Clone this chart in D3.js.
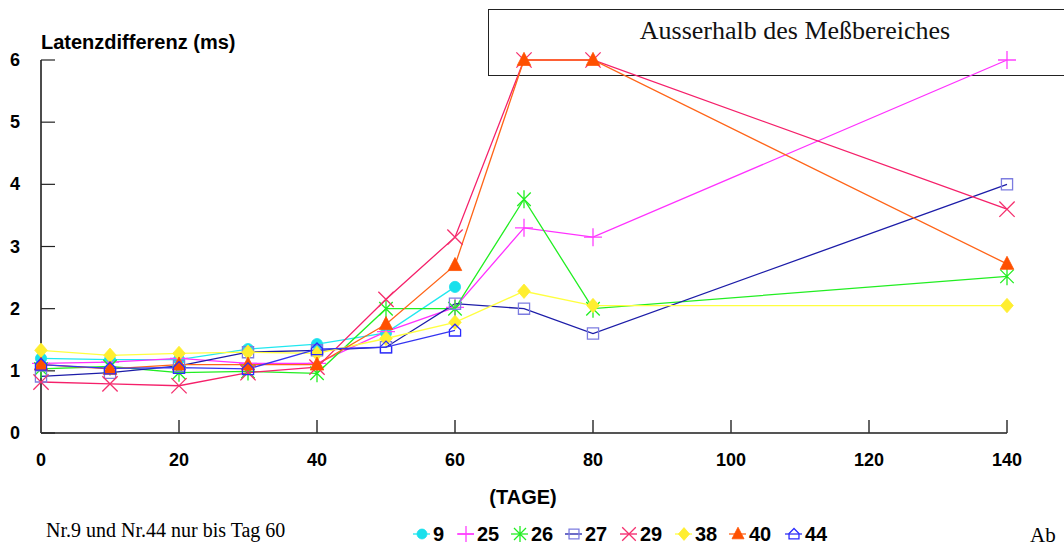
<!DOCTYPE html>
<html>
<head>
<meta charset="utf-8">
<script src="https://cdn.jsdelivr.net/npm/d3@7/dist/d3.min.js"></script>
<style>
  html, body { margin: 0; padding: 0; background: #fff; }
  svg { display: block; }
</style>
</head>
<body>
<svg id="chart" width="1064" height="548"></svg>
<script>
// Measurement days
const days = [0, 10, 20, 30, 40, 50, 60, 70, 80, 140];

// Latency difference (ms) per animal
const s9  = [1.20, 1.18, 1.18, 1.35, 1.43, 1.61, 2.35];
const s25 = [1.12, 1.14, 1.20, 1.12, 1.12, 1.63, 2.02, 3.30, 3.15, 6.00];
const s26 = [1.03, 1.07, 0.97, 0.99, 0.96, 2.00, 2.00, 3.76, 2.00, 2.52];
const s27 = [0.91, 0.97, 1.08, 1.30, 1.33, 1.38, 2.08, 2.00, 1.60, 4.00];
const s29 = [0.82, 0.79, 0.76, 0.97, 1.06, 2.15, 3.15, 6.00, 6.00, 3.60];
const s38 = [1.33, 1.25, 1.28, 1.30, 1.28, 1.52, 1.78, 2.28, 2.05, 2.05];
const s40 = [1.10, 1.03, 1.10, 1.10, 1.10, 1.75, 2.70, 6.00, 6.00, 2.72];
const s44 = [1.10, 1.04, 1.05, 1.03, 1.35, 1.38, 1.65];

const seriesNames = ["9", "25", "26", "27", "29", "38", "40", "44"];
const seriesValues = [s9, s25, s26, s27, s29, s38, s40, s44];

const xTicks = [0, 20, 40, 60, 80, 100, 120, 140];
const yTicks = [0, 1, 2, 3, 4, 5, 6];

// Per-series styling: line colour, marker colour, marker shape
const styles = {
  "9":  { line: "#20e8f0", mark: "#18e0ec", shape: "circle" },
  "25": { line: "#ff30ff", mark: "#ff40ff", shape: "plus" },
  "26": { line: "#22ee22", mark: "#22ee22", shape: "asterisk" },
  "27": { line: "#1c1ca8", mark: "#7c7ce0", shape: "square" },
  "29": { line: "#f5206a", mark: "#f5306e", shape: "cross" },
  "38": { line: "#ffff40", mark: "#ffee30", shape: "diamond" },
  "40": { line: "#ff6418", mark: "#ff5000", shape: "triangle" },
  "44": { line: "#3434f0", mark: "#2a2aff", shape: "house" }
};

const svg = d3.select("#chart");
const x = d3.scaleLinear().domain([0, 140]).range([41, 1007]);
const y = d3.scaleLinear().domain([0, 6]).range([433, 60]);

// Marker path generators (centred at 0,0)
function markerPath(shape, r) {
  const p = d3.path();
  switch (shape) {
    case "circle":
      p.arc(0, 0, r * 0.62, 0, 2 * Math.PI); break;
    case "plus":
      p.moveTo(-r, 0); p.lineTo(r, 0); p.moveTo(0, -r); p.lineTo(0, r); break;
    case "asterisk": {
      const d = r * 0.75;
      p.moveTo(0, -r); p.lineTo(0, r);
      p.moveTo(-d, -d); p.lineTo(d, d);
      p.moveTo(-d, d); p.lineTo(d, -d);
      break;
    }
    case "square": {
      const h = r * 0.62;
      p.rect(-h, -h, 2 * h, 2 * h); break;
    }
    case "cross": {
      const d = r * 0.85;
      p.moveTo(-d, -d); p.lineTo(d, d); p.moveTo(-d, d); p.lineTo(d, -d); break;
    }
    case "diamond":
      p.moveTo(0, -r * 0.8); p.lineTo(r * 0.7, 0); p.lineTo(0, r * 0.8); p.lineTo(-r * 0.7, 0); p.closePath(); break;
    case "triangle":
      p.moveTo(0, -r * 0.85); p.lineTo(r * 0.75, r * 0.6); p.lineTo(-r * 0.75, r * 0.6); p.closePath(); break;
    case "house": {
      const h = r * 0.62;
      p.moveTo(-h, h); p.lineTo(h, h); p.lineTo(h, -h * 0.1); p.lineTo(0, -h * 1.1);
      p.lineTo(-h, -h * 0.1); p.closePath(); break;
    }
  }
  return p.toString();
}
const filledShapes = new Set(["circle", "diamond", "triangle"]);

function drawMarker(g, shape, color, cx, cy, r) {
  const filled = filledShapes.has(shape);
  g.append("path")
    .attr("d", markerPath(shape, r))
    .attr("transform", `translate(${cx},${cy})`)
    .attr("fill", filled ? color : "none")
    .attr("stroke", color)
    .attr("stroke-width", filled ? 0.8 : 1.3);
}

// Out-of-range annotation box
svg.append("rect")
  .attr("x", 488.5).attr("y", 9.5)
  .attr("width", 620).attr("height", 66)
  .attr("fill", "#fff").attr("stroke", "#222").attr("stroke-width", 1);
svg.append("text")
  .attr("x", 795).attr("y", 39)
  .attr("text-anchor", "middle")
  .attr("font-family", "'Liberation Serif', 'DejaVu Serif', serif")
  .attr("font-size", 26)
  .attr("fill", "#111")
  .text("Ausserhalb des Meßbereiches");

// Axes
const axisG = svg.append("g");
axisG.append("line")
  .attr("x1", 41).attr("x2", 41).attr("y1", y(6)).attr("y2", y(0))
  .attr("stroke", "#111").attr("stroke-width", 1.5);
axisG.append("line")
  .attr("x1", 41).attr("x2", x(140)).attr("y1", y(0)).attr("y2", y(0))
  .attr("stroke", "#555").attr("stroke-width", 1.8);

axisG.selectAll(".yt").data(yTicks).enter().append("line")
  .attr("x1", 41).attr("x2", 55)
  .attr("y1", d => y(d)).attr("y2", d => y(d))
  .attr("stroke", "#222").attr("stroke-width", 1.2);
axisG.selectAll(".xt").data(xTicks.slice(1)).enter().append("line")
  .attr("x1", d => x(d)).attr("x2", d => x(d))
  .attr("y1", y(0) - 13).attr("y2", y(0))
  .attr("stroke", "#333").attr("stroke-width", 1.5);

const labelFont = "'Liberation Sans', Arial, sans-serif";
axisG.selectAll(".yl").data(yTicks).enter().append("text")
  .attr("x", 20).attr("y", d => y(d) + 6)
  .attr("text-anchor", "end")
  .attr("font-family", labelFont).attr("font-weight", "bold").attr("font-size", 18)
  .attr("fill", "#000")
  .text(d => d);
axisG.selectAll(".xl").data(xTicks).enter().append("text")
  .attr("x", d => x(d)).attr("y", 466)
  .attr("text-anchor", "middle")
  .attr("font-family", labelFont).attr("font-weight", "bold").attr("font-size", 18)
  .attr("fill", "#000")
  .text(d => d);

svg.append("text")
  .attr("x", 41).attr("y", 49)
  .attr("font-family", labelFont).attr("font-weight", "bold").attr("font-size", 20)
  .attr("fill", "#000")
  .text("Latenzdifferenz (ms)");
svg.append("text")
  .attr("x", 523).attr("y", 504)
  .attr("text-anchor", "middle")
  .attr("font-family", labelFont).attr("font-weight", "bold").attr("font-size", 20)
  .attr("fill", "#000")
  .text("(TAGE)");

// Series lines and markers
const lineGen = d3.line().x(d => x(d[0])).y(d => y(d[1]));
const plotG = svg.append("g");
seriesNames.forEach((name, i) => {
  const pts = seriesValues[i].map((v, j) => [days[j], v]);
  const st = styles[name];
  plotG.append("path")
    .attr("d", lineGen(pts))
    .attr("fill", "none")
    .attr("stroke", st.line)
    .attr("stroke-width", 1.3);
});
seriesNames.forEach((name, i) => {
  const st = styles[name];
  seriesValues[i].forEach((v, j) => {
    drawMarker(plotG, st.shape, st.mark, x(days[j]), y(v), 9);
  });
});

// Legend
const legendX = [422, 466, 520, 574, 629, 684, 738, 794];
const legendY = 534;
const legG = svg.append("g");
seriesNames.forEach((name, i) => {
  const st = styles[name];
  const cx = legendX[i];
  legG.append("line")
    .attr("x1", cx - 9).attr("x2", cx + 8)
    .attr("y1", legendY).attr("y2", legendY)
    .attr("stroke", st.line).attr("stroke-width", 1.3);
  drawMarker(legG, st.shape, st.mark, cx, legendY, 8);
  legG.append("text")
    .attr("x", cx + 11).attr("y", legendY + 7)
    .attr("font-family", labelFont).attr("font-weight", "bold").attr("font-size", 20)
    .attr("fill", "#000")
    .text(name);
});

// Footnote and figure caption fragment
svg.append("text")
  .attr("x", 46).attr("y", 537)
  .attr("font-family", "'Liberation Serif', serif").attr("font-size", 20)
  .attr("fill", "#000")
  .text("Nr.9 und Nr.44 nur bis Tag 60");
svg.append("text")
  .attr("x", 1030).attr("y", 542)
  .attr("font-family", "'Liberation Serif', serif").attr("font-size", 21)
  .attr("fill", "#000")
  .text("Ab");
</script>
</body>
</html>
